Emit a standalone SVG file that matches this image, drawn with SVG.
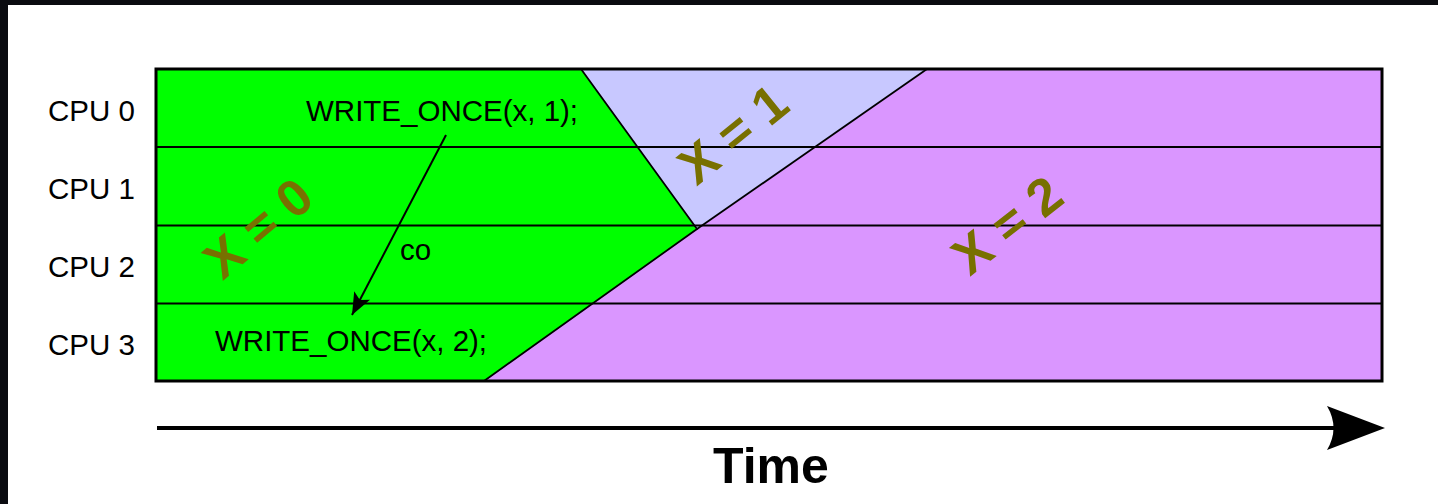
<svg xmlns="http://www.w3.org/2000/svg" width="1438" height="504" viewBox="0 0 1438 504">
<style>
.lbl{font-family:"Liberation Sans",Arial,sans-serif;font-size:29.5px;fill:#000}
.big{font-family:"Liberation Sans",Arial,sans-serif;font-weight:bold;font-size:52px;fill:#787000}
.row{stroke:#000;stroke-width:2;fill:none}
.edge{stroke:#000;stroke-width:1.8;fill:none}
</style>
<defs>
<marker id="ah" markerWidth="24" markerHeight="18" refX="22" refY="9" orient="auto" markerUnits="userSpaceOnUse">
<path d="M0,0 L22,9 L0,18 L5,9 Z" fill="#000"/>
</marker>
</defs>
<rect x="0" y="0" width="1438" height="504" fill="#fff"/>
<rect x="0" y="0" width="1438" height="5" fill="#0a0b10"/>
<rect x="0" y="0" width="8" height="504" fill="#0a0b10"/>
<g id="regions">
<rect x="156" y="69" width="1226" height="312" fill="#da96ff"/>
<polygon id="x0-region" points="156,69 581,69 697,229 484,381 156,381" fill="#00ff00"/>
<polygon id="x1-region" points="581,69 927,69 697,229" fill="#c8c8ff"/>
</g>
<g id="rows">
<line class="row" x1="156" y1="147" x2="1382" y2="147"/>
<line class="row" x1="156" y1="225.5" x2="1382" y2="225.5"/>
<line class="row" x1="156" y1="303.5" x2="1382" y2="303.5"/>
</g>
<g id="boundaries">
<polyline class="edge" points="581,69 697,229 484,381"/>
<line class="edge" x1="927" y1="69" x2="697" y2="229"/>
</g>
<rect id="frame" x="156" y="69" width="1226" height="312" fill="none" stroke="#000" stroke-width="3"/>
<g id="cpu-labels">
<text class="lbl" x="48" y="120.5">CPU 0</text>
<text class="lbl" x="48" y="199">CPU 1</text>
<text class="lbl" x="48" y="277">CPU 2</text>
<text class="lbl" x="48" y="355">CPU 3</text>
</g>
<g id="write1"><text class="lbl" x="306" y="121">WRITE_ONCE(x, 1);</text></g>
<g id="write2"><text class="lbl" x="215" y="350.5">WRITE_ONCE(x, 2);</text></g>
<g id="connectors">
<line x1="446" y1="135" x2="352" y2="315" stroke="#000" stroke-width="2" marker-end="url(#ah)"/>
<text class="lbl" x="400" y="260">co</text>
<line x1="157" y1="428" x2="1340" y2="428" stroke="#000" stroke-width="4"/>
<path d="M1385,428 L1327,406 Q1340,428 1327,450 Z" fill="#000"/>
</g>
<g id="values">
<text class="big" text-anchor="middle" transform="translate(258,228) rotate(-40)" y="18">X = 0</text>
<text class="big" text-anchor="middle" transform="translate(733,134) rotate(-39)" y="18">X = 1</text>
<text class="big" text-anchor="middle" transform="translate(1007,225) rotate(-38)" y="18">X = 2</text>
</g>
<g id="time-label"><text x="771" y="483" text-anchor="middle" font-family="'Liberation Sans',Arial,sans-serif" font-weight="bold" font-size="50" fill="#000">Time</text></g>
</svg>
